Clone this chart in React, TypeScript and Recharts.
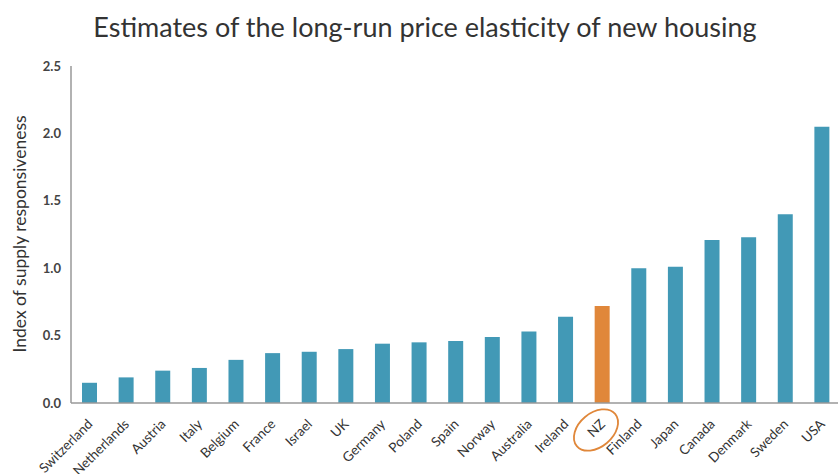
import { Bar, BarChart, Cell, XAxis, YAxis } from 'recharts';

const countries = [
  'Switzerland', 'Netherlands', 'Austria', 'Italy', 'Belgium', 'France', 'Israel',
  'UK', 'Germany', 'Poland', 'Spain', 'Norway', 'Australia', 'Ireland', 'NZ',
  'Finland', 'Japan', 'Canada', 'Denmark', 'Sweden', 'USA',
];

const elasticity = [
  0.15, 0.19, 0.24, 0.26, 0.32, 0.37, 0.38, 0.4, 0.44, 0.45, 0.46, 0.49, 0.53,
  0.64, 0.72, 1.0, 1.01, 1.21, 1.23, 1.4, 2.05,
];

const yTicks = [0, 0.5, 1, 1.5, 2, 2.5];

const highlighted = 'NZ';

const data = countries.map((country, i) => ({ country, value: elasticity[i] }));

const FONT = 'Lato, "Open Sans", sans-serif';

type TickProps = { x?: number; y?: number; payload?: { value: string } };

function CountryTick({ x = 0, y = 0, payload }: TickProps) {
  const label = payload?.value ?? '';
  return (
    <g transform={`translate(${x},${y})`}>
      {label === highlighted && (
        <ellipse
          cx={-6}
          cy={19}
          rx={25}
          ry={17}
          transform="rotate(-40 -6 19)"
          fill="none"
          stroke="#e0873a"
          strokeWidth={1.8}
        />
      )}
      <text
        x={4}
        y={14}
        textAnchor="end"
        transform="rotate(-45 4 14)"
        fontSize={13.5}
        fill="#333"
        fontFamily={FONT}
      >
        {label}
      </text>
    </g>
  );
}

export default function App() {
  return (
    <div style={{ position: 'absolute', left: 0, top: 0, width: 840, height: 474, background: '#fff' }}>
      <div
        style={{
          position: 'absolute',
          left: 0,
          top: 10,
          width: 850,
          textAlign: 'center',
          fontFamily: FONT,
          fontSize: 27,
          color: '#333',
        }}
      >
        Estimates of the long-run price elasticity of new housing
      </div>
      <div
        style={{
          position: 'absolute',
          left: 19,
          top: 234,
          transform: 'translate(-50%, -50%) rotate(-90deg)',
          whiteSpace: 'nowrap',
          fontFamily: FONT,
          fontSize: 17.5,
          color: '#333',
        }}
      >
        Index of supply responsiveness
      </div>
      <BarChart
        width={840}
        height={474}
        data={data}
        margin={{ top: 66, right: 0, bottom: 0, left: 0 }}
        style={{ position: 'absolute', left: 0, top: 0 }}
      >
        <XAxis
          dataKey="country"
          interval={0}
          tickLine={false}
          axisLine={{ stroke: '#999', strokeWidth: 1.5 }}
          tick={<CountryTick />}
          height={71}
        />
        <YAxis
          width={71}
          domain={[0, 2.5]}
          ticks={yTicks}
          tickFormatter={(v: number) => v.toFixed(1)}
          tickLine={false}
          tickSize={8}
          tickMargin={2}
          axisLine={{ stroke: '#999', strokeWidth: 1.5 }}
          tick={{ fontSize: 13, fill: '#444', fontFamily: FONT, fontWeight: 700 }}
        />
        <Bar dataKey="value" barSize={15} isAnimationActive={false}>
          {data.map((entry) => (
            <Cell key={entry.country} fill={entry.country === highlighted ? '#e0873a' : '#4299b6'} />
          ))}
        </Bar>
      </BarChart>
    </div>
  );
}
